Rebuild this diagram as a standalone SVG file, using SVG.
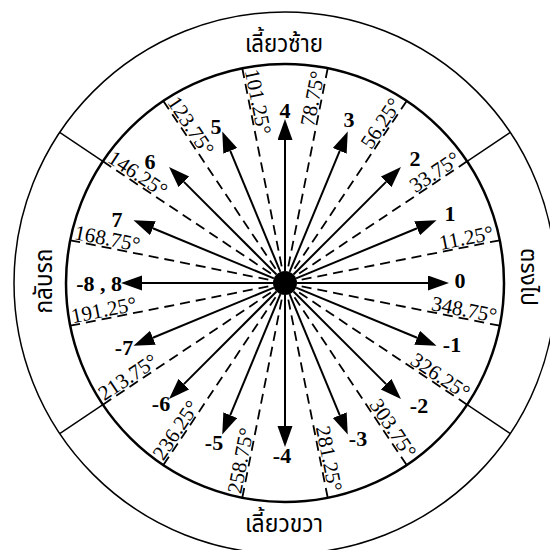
<svg xmlns="http://www.w3.org/2000/svg" width="550" height="550" viewBox="0 0 550 550">
<style>
.ring{fill:none;stroke:#000}
.div{stroke:#000;stroke-width:1.4}
.dash{stroke:#000;stroke-width:1.8;stroke-dasharray:10 6}
.arr{stroke:#000;stroke-width:2;marker-end:url(#ah)}
.ang{font-family:"Liberation Serif","Times New Roman",serif;font-size:21px;fill:#000}
.num{font-family:"Liberation Serif","Times New Roman",serif;font-size:22px;font-weight:bold;fill:#000;text-anchor:middle}
.thai{font-family:"Noto Sans Thai","Noto Sans","Loma","Garuda",sans-serif;font-size:25px;fill:#000;text-anchor:middle}
</style>
<defs>
<marker id="ah" markerUnits="userSpaceOnUse" markerWidth="22" markerHeight="16" refX="0" refY="7.5" orient="auto">
<path d="M0,0 L21,7.5 L0,15 Z" fill="#000"/>
</marker>
</defs>
<rect width="550" height="550" fill="#fff"/>
<g id="rings">
<circle class="ring" cx="285" cy="283" r="271" stroke-width="1.5"/>
<circle class="ring" cx="285" cy="283" r="219" stroke-width="2.5"/>
</g>
<g id="dividers">
<line class="div" x1="467.1" y1="161.3" x2="510.3" y2="132.4"/>
<line class="div" x1="102.9" y1="161.3" x2="59.7" y2="132.4"/>
<line class="div" x1="102.9" y1="404.7" x2="59.7" y2="433.6"/>
<line class="div" x1="467.1" y1="404.7" x2="510.3" y2="433.6"/>
</g>
<g id="sector-labels">
<text class="thai" x="284" y="52" textLength="78" lengthAdjust="spacingAndGlyphs">เลี้ยวซ้าย</text>
<text class="thai" x="284" y="532" textLength="78" lengthAdjust="spacingAndGlyphs">เลี้ยวขวา</text>
<text class="thai" transform="translate(52 281) rotate(-90)" textLength="65" lengthAdjust="spacingAndGlyphs">กลับรถ</text>
<text class="thai" style="font-size:23px" transform="translate(521 277) rotate(90)" textLength="58" lengthAdjust="spacingAndGlyphs">ตรงไป</text>
</g>
<g id="boundaries" transform="translate(285 283)">
<line class="dash" x1="219" y1="0" x2="14" y2="0" transform="rotate(-11.25)"/>
<line class="dash" x1="219" y1="0" x2="14" y2="0" transform="rotate(-33.75)"/>
<line class="dash" x1="219" y1="0" x2="14" y2="0" transform="rotate(-56.25)"/>
<line class="dash" x1="219" y1="0" x2="14" y2="0" transform="rotate(-78.75)"/>
<line class="dash" x1="219" y1="0" x2="14" y2="0" transform="rotate(-101.25)"/>
<line class="dash" x1="219" y1="0" x2="14" y2="0" transform="rotate(-123.75)"/>
<line class="dash" x1="219" y1="0" x2="14" y2="0" transform="rotate(-146.25)"/>
<line class="dash" x1="219" y1="0" x2="14" y2="0" transform="rotate(-168.75)"/>
<line class="dash" x1="219" y1="0" x2="14" y2="0" transform="rotate(-191.25)"/>
<line class="dash" x1="219" y1="0" x2="14" y2="0" transform="rotate(-213.75)"/>
<line class="dash" x1="219" y1="0" x2="14" y2="0" transform="rotate(-236.25)"/>
<line class="dash" x1="219" y1="0" x2="14" y2="0" transform="rotate(-258.75)"/>
<line class="dash" x1="219" y1="0" x2="14" y2="0" transform="rotate(-281.25)"/>
<line class="dash" x1="219" y1="0" x2="14" y2="0" transform="rotate(-303.75)"/>
<line class="dash" x1="219" y1="0" x2="14" y2="0" transform="rotate(-326.25)"/>
<line class="dash" x1="219" y1="0" x2="14" y2="0" transform="rotate(-348.75)"/>
</g>
<g id="angle-labels" class="ang" transform="translate(285 283)">
<text transform="rotate(-11.25) translate(214 -2)" text-anchor="end">11.25°</text>
<text transform="rotate(-33.75) translate(214 -2)" text-anchor="end">33.75°</text>
<text transform="rotate(-56.25) translate(214 -2)" text-anchor="end">56.25°</text>
<text transform="rotate(-78.75) translate(214 -2)" text-anchor="end">78.75°</text>
<text transform="rotate(78.75) translate(-216 -2)">101.25°</text>
<text transform="rotate(56.25) translate(-216 -2)">123.75°</text>
<text transform="rotate(33.75) translate(-216 -2)">146.25°</text>
<text transform="rotate(11.25) translate(-216 -2)">168.75°</text>
<text transform="rotate(-11.25) translate(-216 -2)">191.25°</text>
<text transform="rotate(-33.75) translate(-216 -2)">213.75°</text>
<text transform="rotate(-56.25) translate(-216 -2)">236.25°</text>
<text transform="rotate(-78.75) translate(-216 -2)">258.75°</text>
<text transform="rotate(78.75) translate(214 -2)" text-anchor="end">281.25°</text>
<text transform="rotate(56.25) translate(214 -2)" text-anchor="end">303.75°</text>
<text transform="rotate(33.75) translate(214 -2)" text-anchor="end">326.25°</text>
<text transform="rotate(11.25) translate(214 -2)" text-anchor="end">348.75°</text>
</g>
<g id="connectors" transform="translate(285 283)">
<line class="arr" x1="12" y1="0" x2="143" y2="0"/>
<line class="arr" x1="12" y1="0" x2="143" y2="0" transform="rotate(-22.5)"/>
<line class="arr" x1="12" y1="0" x2="143" y2="0" transform="rotate(-45)"/>
<line class="arr" x1="12" y1="0" x2="143" y2="0" transform="rotate(-67.5)"/>
<line class="arr" x1="12" y1="0" x2="143" y2="0" transform="rotate(-90)"/>
<line class="arr" x1="12" y1="0" x2="143" y2="0" transform="rotate(-112.5)"/>
<line class="arr" x1="12" y1="0" x2="143" y2="0" transform="rotate(-135)"/>
<line class="arr" x1="12" y1="0" x2="143" y2="0" transform="rotate(-157.5)"/>
<line class="arr" x1="12" y1="0" x2="143" y2="0" transform="rotate(-180)"/>
<line class="arr" x1="12" y1="0" x2="143" y2="0" transform="rotate(-202.5)"/>
<line class="arr" x1="12" y1="0" x2="143" y2="0" transform="rotate(-225)"/>
<line class="arr" x1="12" y1="0" x2="143" y2="0" transform="rotate(-247.5)"/>
<line class="arr" x1="12" y1="0" x2="143" y2="0" transform="rotate(-270)"/>
<line class="arr" x1="12" y1="0" x2="143" y2="0" transform="rotate(-292.5)"/>
<line class="arr" x1="12" y1="0" x2="143" y2="0" transform="rotate(-315)"/>
<line class="arr" x1="12" y1="0" x2="143" y2="0" transform="rotate(-337.5)"/>
</g>
<g id="hub"><circle cx="285" cy="283" r="12" fill="#000"/></g>
<g id="direction-labels" class="num">
<text id="d0" x="460" y="288">0</text>
<text id="d1" x="450" y="221">1</text>
<text id="d2" x="415" y="166">2</text>
<text id="d3" x="349" y="127">3</text>
<text id="d4" x="285" y="118">4</text>
<text id="d5" x="216" y="134">5</text>
<text id="d6" x="150" y="169">6</text>
<text id="d7" x="117" y="227">7</text>
<text id="d8" x="122" y="291" text-anchor="end">-8 , 8</text>
<text id="dm7" x="124" y="355">-7</text>
<text id="dm6" x="161" y="411">-6</text>
<text id="dm5" x="214" y="450">-5</text>
<text id="dm4" x="282" y="463">-4</text>
<text id="dm3" x="358" y="446">-3</text>
<text id="dm2" x="419" y="413">-2</text>
<text id="dm1" x="452" y="352">-1</text>
</g>
</svg>
